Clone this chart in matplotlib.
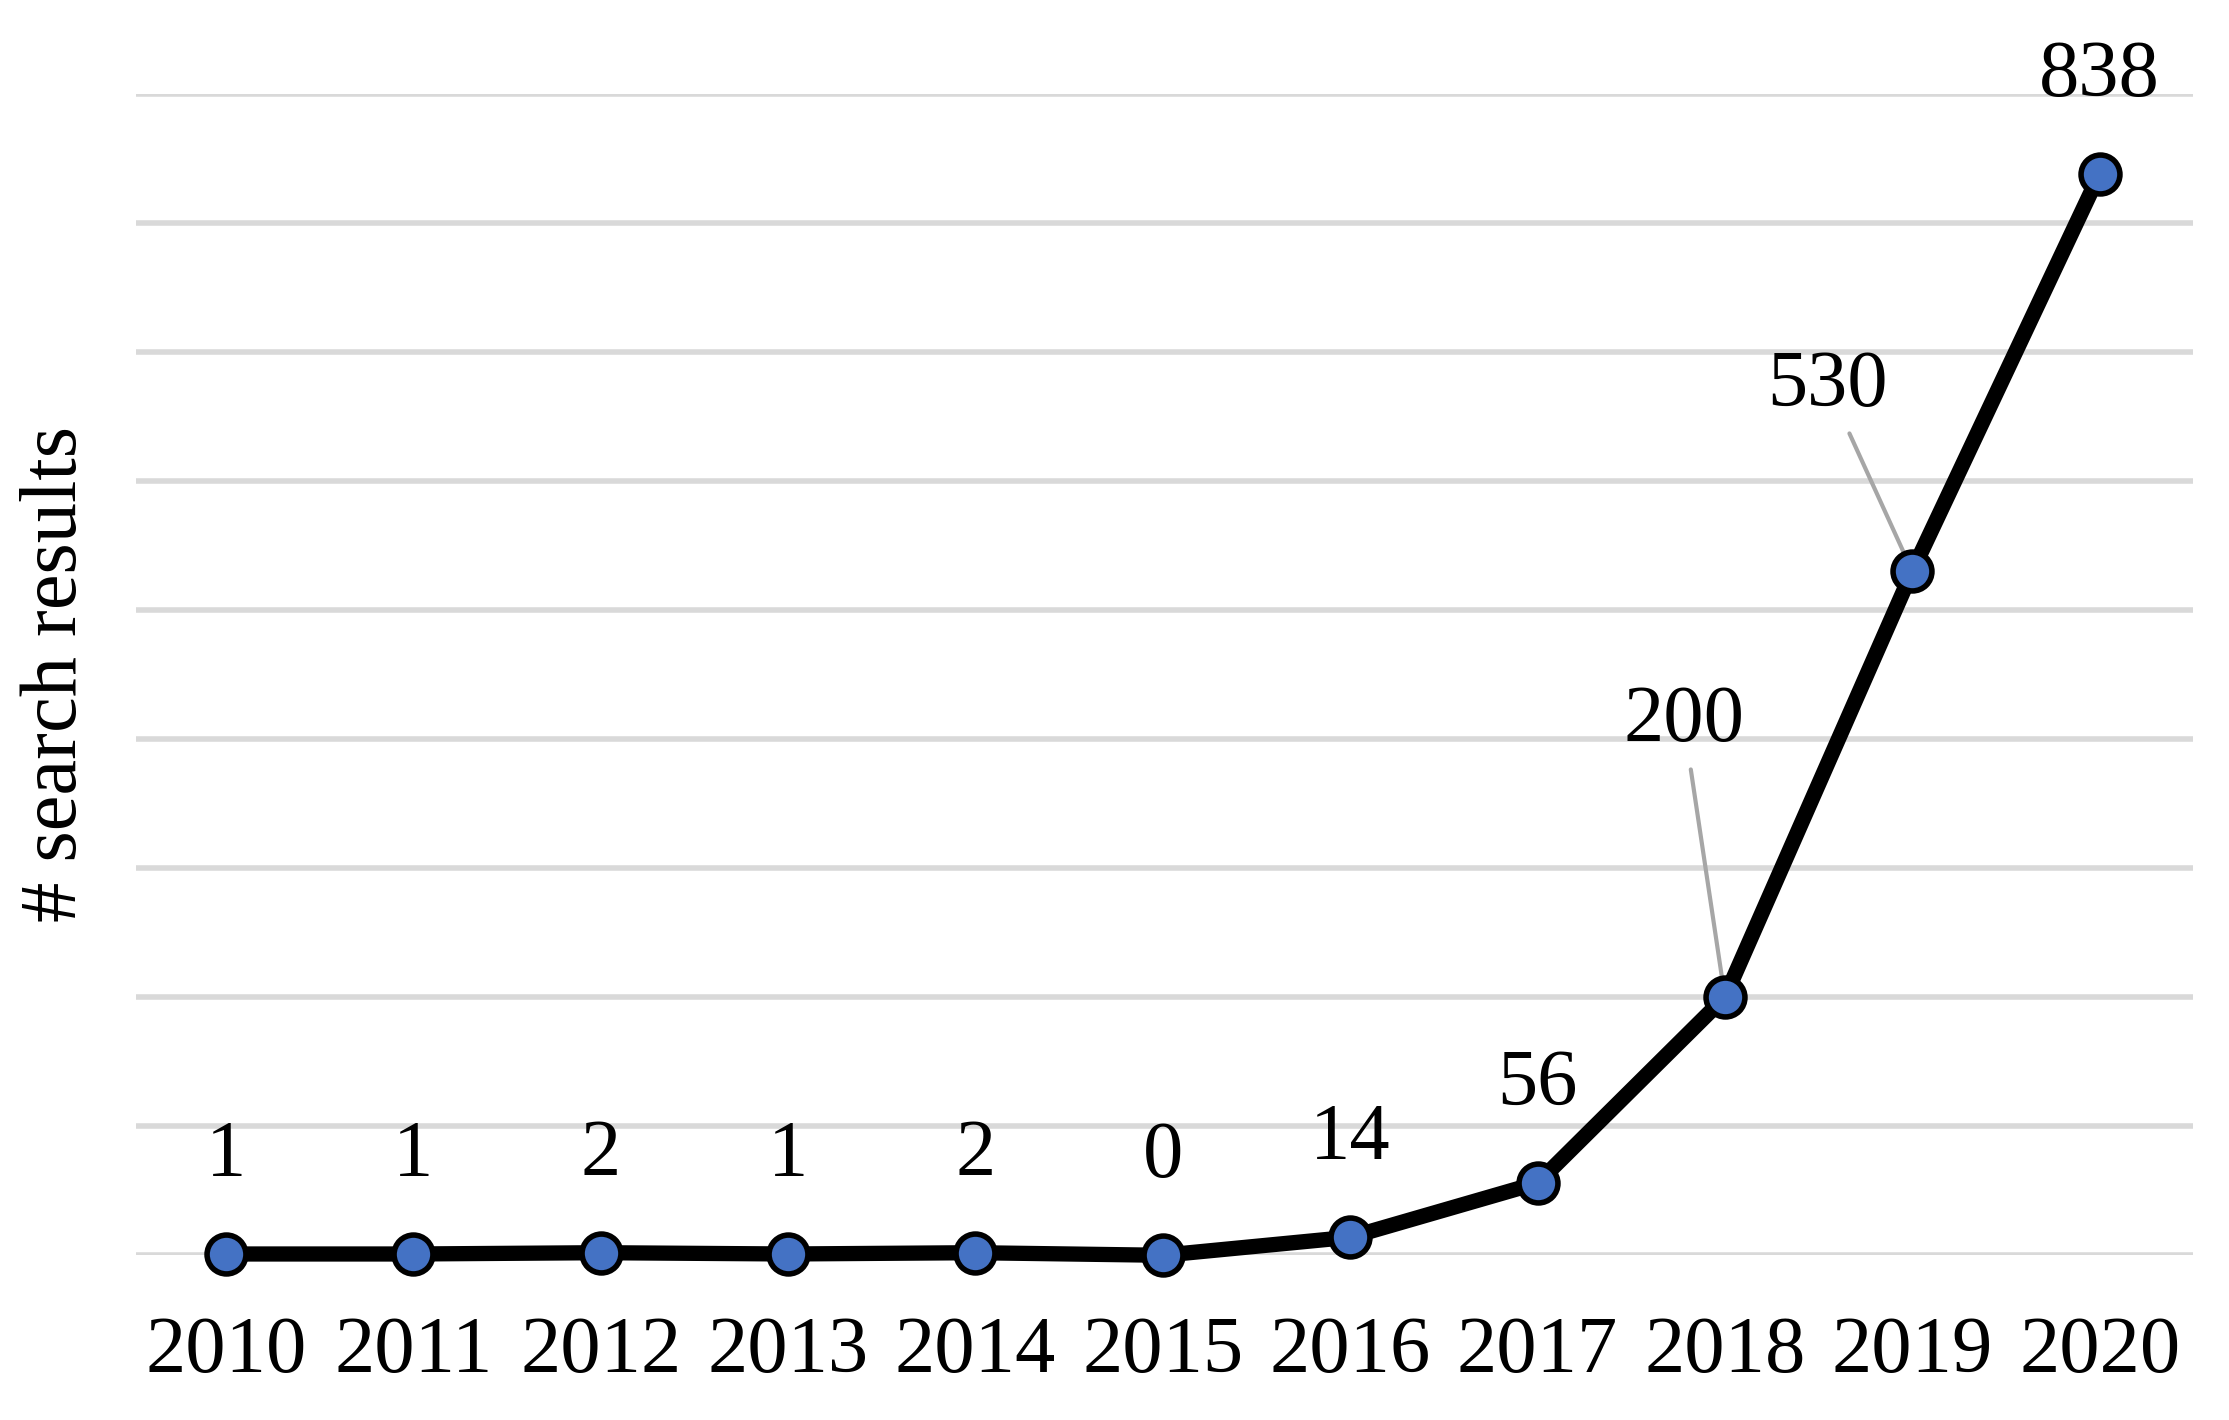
import matplotlib
matplotlib.use("Agg")
import matplotlib.pyplot as plt

years = [2010, 2011, 2012, 2013, 2014, 2015, 2016, 2017, 2018, 2019, 2020]
results = [1, 1, 2, 1, 2, 0, 14, 56, 200, 530, 838]

plt.rcParams["font.family"] = ["Liberation Serif", "DejaVu Serif"]

fig = plt.figure(figsize=(11.145, 7.1), dpi=200)
ax = fig.add_axes([0.061, 0.116, 0.923, 0.818])

ax.plot(years, results, color="black", lw=5.5, zorder=3, clip_on=False)
ax.plot(years, results, "o", ms=14, mfc="#4472C4", mec="black", mew=2, zorder=4, clip_on=False)

ax.set_xlim(2009.52, 2020.5)
ax.set_ylim(0, 900)
ax.set_yticks(range(0, 901, 100))
ax.set_yticklabels([])
ax.tick_params(axis="y", length=0)
ax.tick_params(axis="x", length=0, labelsize=29, pad=22)
ax.set_xticks(years)
ax.grid(axis="y", color="#d9d9d9", lw=2)
ax.set_axisbelow(True)
for s in ax.spines.values():
    s.set_visible(False)
ax.set_ylabel("# search results", fontsize=29, labelpad=12)

for x, y in zip(years, results):
    if y == 200:
        ax.annotate(str(y), xy=(x, y), xytext=(-0.23, 183), textcoords=("offset fontsize", "data") if False else "data",
                    fontsize=29, ha="center", va="bottom") if False else None
        ax.annotate(str(y), xy=(x, y), xytext=(x - 0.22, 385), fontsize=29, ha="center", va="bottom",
                    arrowprops=dict(arrowstyle="-", color="#a6a6a6", lw=1.5, shrinkA=2, shrinkB=0))
    elif y == 530:
        ax.annotate(str(y), xy=(x, y), xytext=(x - 0.45, 645), fontsize=29, ha="center", va="bottom",
                    arrowprops=dict(arrowstyle="-", color="#a6a6a6", lw=1.5, shrinkA=2, shrinkB=0))
    else:
        ax.annotate(str(y), xy=(x, y), xytext=(0, 22), textcoords="offset points",
                    fontsize=29, ha="center", va="bottom")

fig.savefig("out.png", dpi=200)
